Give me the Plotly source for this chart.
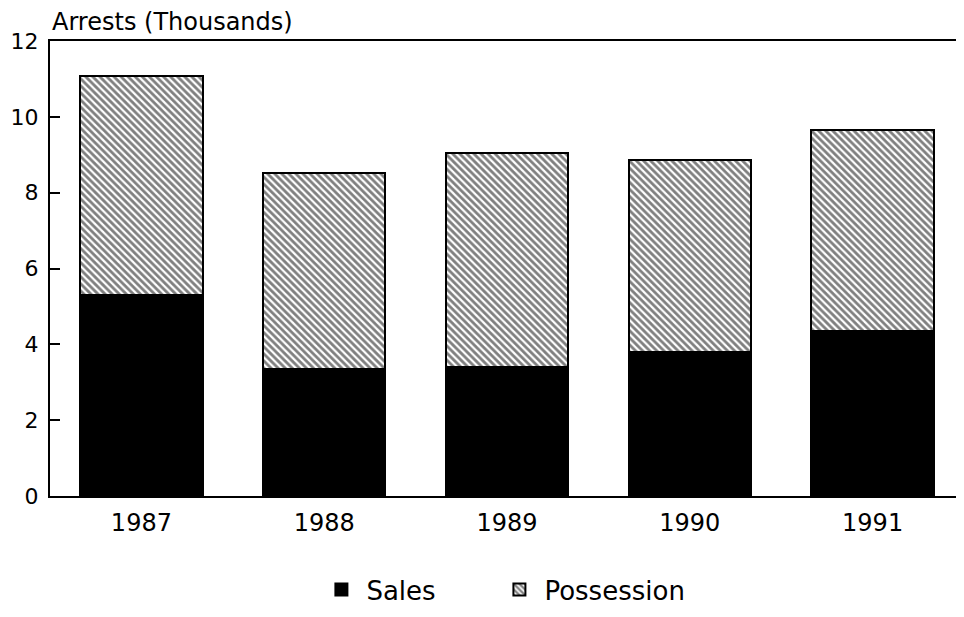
import plotly.graph_objects as go

years = ["1987", "1988", "1989", "1990", "1991"]
sales = [5.29, 3.35, 3.40, 3.79, 4.34]
possession = [5.80, 5.16, 5.65, 5.08, 5.30]
y_ticks = [0, 2, 4, 6, 8, 10, 12]

FONT = "DejaVu Sans, Liberation Sans, Arial, sans-serif"

fig = go.Figure()
fig.add_trace(go.Bar(
    x=years, y=sales, name="Sales", legend="legend",
    marker=dict(color="black", line=dict(color="black", width=2)),
))
fig.add_trace(go.Bar(
    x=years, y=possession, name="Possession", legend="legend2",
    marker=dict(color="white", line=dict(color="black", width=2),
                pattern=dict(shape="\\", fgcolor="black", bgcolor="white",
                             size=5, solidity=0.55)),
))

legend_common = dict(orientation="h", xref="container", yref="container",
                     xanchor="left", y=0.045, yanchor="middle",
                     font=dict(family=FONT, size=26), itemwidth=40)

fig.update_layout(
    barmode="stack",
    bargap=0.33,
    width=956, height=609,
    margin=dict(l=42, r=0, t=33, b=121),
    paper_bgcolor="white", plot_bgcolor="white",
    font=dict(family=FONT, size=22, color="black"),
    showlegend=True,
    legend=dict(x=0.3226, **legend_common),
    legend2=dict(x=0.5088, **legend_common),
    annotations=[dict(text="Arrests (Thousands)", xref="paper", yref="paper",
                      x=0, y=1, xanchor="left", yanchor="bottom", yshift=3,
                      showarrow=False,
                      font=dict(family=FONT, size=24, color="black"))],
)
fig.update_xaxes(
    range=[-0.5, 4.5], showline=True, linecolor="black", linewidth=2,
    mirror=True, ticks="", showgrid=False, tickfont=dict(size=24),
    ticklabelstandoff=4,
)
fig.update_yaxes(
    range=[0, 12], tickvals=y_ticks, showline=True, linecolor="black",
    linewidth=2, ticks="inside", ticklen=10, tickwidth=2, tickcolor="black",
    showgrid=False, zeroline=False, tickfont=dict(size=22), ticklabelstandoff=5,
)

fig.write_html("out.html")
